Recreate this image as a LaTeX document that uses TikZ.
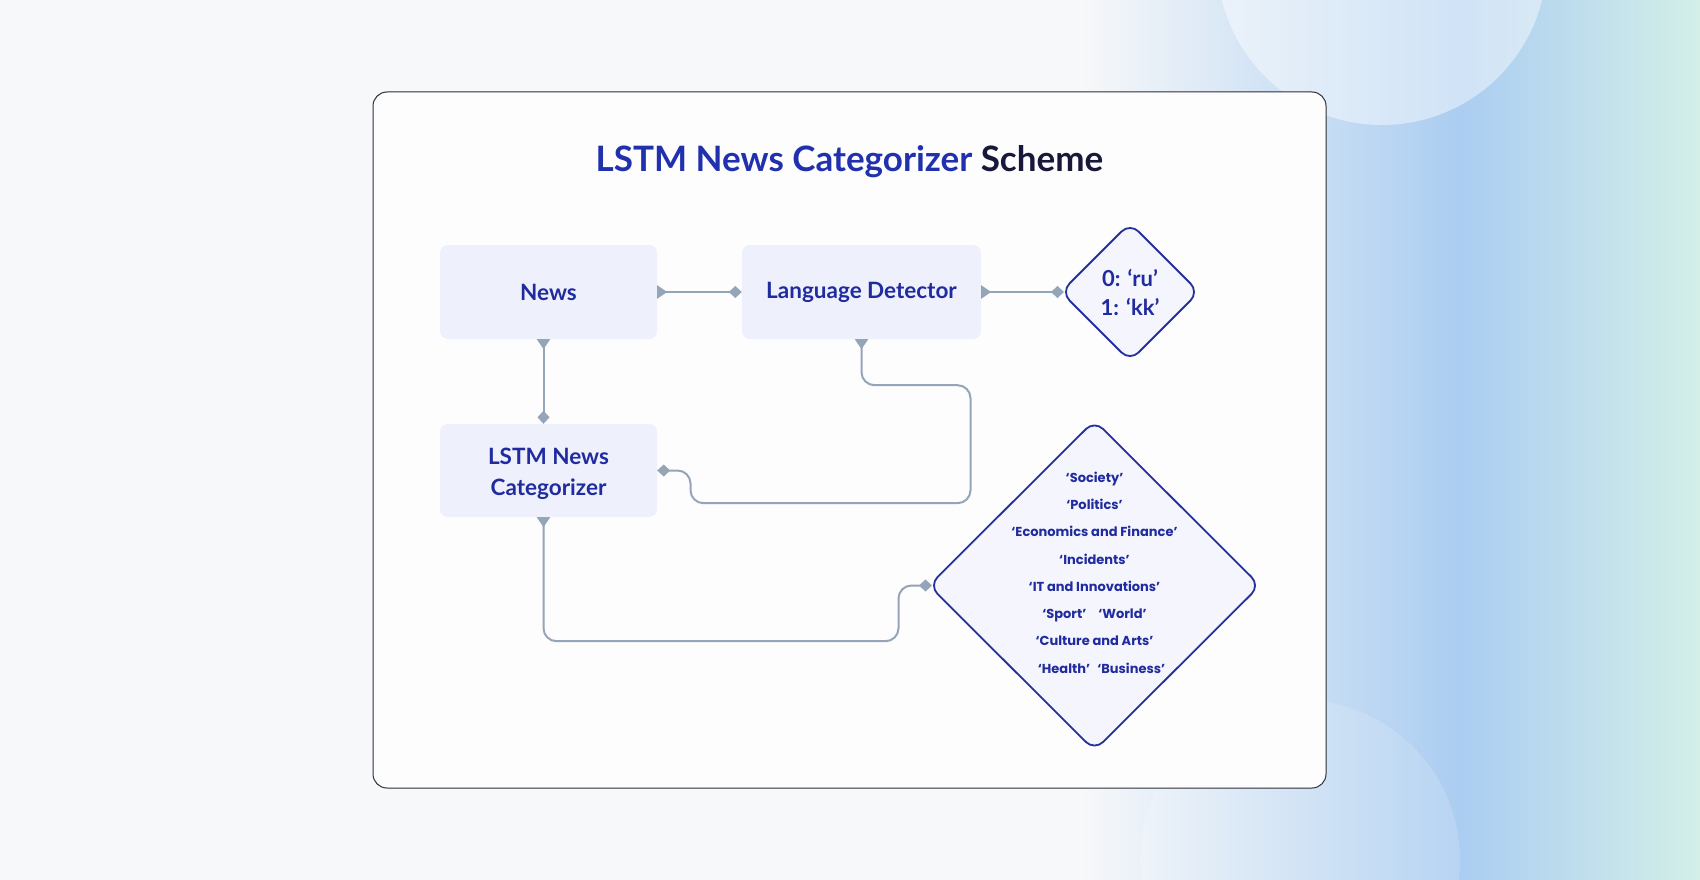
\documentclass[tikz,border=0pt]{standalone}
\usepackage{fontspec}
\setmainfont{Lato}
\newfontfamily\popfont{Poppins}
\usetikzlibrary{shapes,arrows.meta}

\definecolor{boxfill}{HTML}{EEF0FC}
\definecolor{inkblue}{HTML}{1F2B9E}
\definecolor{titleblue}{HTML}{2131AE}
\definecolor{titledark}{HTML}{17183A}
\definecolor{linkgray}{HTML}{95A5B8}
\definecolor{rimblue}{HTML}{24309C}
\definecolor{rhombfill}{HTML}{F4F5FD}
\definecolor{pagebg}{HTML}{F7F8F9}
\definecolor{panelbg}{HTML}{FDFDFE}
\definecolor{panelrim}{HTML}{2B2F38}
\definecolor{skyblue}{HTML}{ABCDF1}
\definecolor{mint}{HTML}{D3EFE8}

\tikzset{
  stage/.style={shape=rectangle,rounded corners=8pt,fill=boxfill,text=inkblue,align=center,font=\bfseries\fontsize{22.5}{31}\selectfont,inner sep=0pt},
  rhomb/.style={shape=diamond,rounded corners=12pt,draw=rimblue,fill=rhombfill,line width=1.8pt,inner sep=0pt,outer sep=0pt},
  link/.style={draw=linkgray,line width=2pt,rounded corners=13pt,{Triangle[reversed,length=10pt,width=13pt]}-{Diamond[length=13pt,width=12pt]}},
}

\begin{document}
\begin{tikzpicture}[x=1pt,y=-1pt]
\useasboundingbox (0,0) rectangle (1700,880);
\fill[pagebg] (0,0) rectangle (1700,880);
\shade[left color=pagebg,right color=skyblue] (1080,0) rectangle (1460,880);
\shade[left color=skyblue,right color=mint] (1460,0) rectangle (1700,880);
\fill[white,opacity=0.45] (1382,-40) circle[radius=165];
\fill[white,opacity=0.15] (1300,860) circle[radius=160];
\filldraw[fill=panelbg,draw=panelrim,line width=1pt,rounded corners=14pt] (373,92) rectangle (1326,788);

\node[font=\bfseries\fontsize{35}{40}\selectfont] (7) at (849.5,162) {\textcolor{titleblue}{LSTM News Categorizer} \textcolor{titledark}{Scheme}};
\node[stage,minimum width=217pt,minimum height=94pt] (0) at (548.5,292) {News};
\node[stage,minimum width=239pt,minimum height=94pt] (1) at (861.5,292) {Language Detector};
\node[stage,minimum width=217pt,minimum height=93pt] (2) at (548.5,470.5) {\raisebox{-3pt}[\height][\depth]{\parbox{200pt}{\centering LSTM News\\Categorizer}}};
\node[rhomb,minimum width=138pt,minimum height=138pt] (3) at (1130,292) {};
\node[text=inkblue,align=center,font=\bfseries\fontsize{22}{29}\selectfont] (4) at (1130,292) {0: ‘ru’\\1: ‘kk’};
\node[rhomb,minimum width=331pt,minimum height=330pt] (5) at (1094.5,585.5) {};
\node[text=inkblue,align=center,font=\popfont\bfseries\fontsize{13}{27.3}\selectfont] (6) at (1094.5,572.5) {‘Society’\\‘Politics’\\‘Economics and Finance’\\‘Incidents’\\‘IT and Innovations’\\‘Sport’\hspace{12pt}‘World’\\‘Culture and Arts’\\\hspace*{14pt}‘Health’\hspace{7pt}‘Business’};

\draw [link] (0.east) -- (1.west);
\draw [link] (1.east) -- ([xshift=3pt]3.west);
\draw [link] ([xshift=-5pt]0.south) -- ([xshift=-5pt]2.north);
\draw [link] (1.south) -- ++(0,46) -- ++(109,0) -- ++(0,118) -- ++(-280,0) |- (2.east);
\draw [link] ([xshift=-5pt]2.south) -- ++(0,124) -- ++(355,0) |- ([xshift=3pt]5.west);
\end{tikzpicture}
\end{document}
